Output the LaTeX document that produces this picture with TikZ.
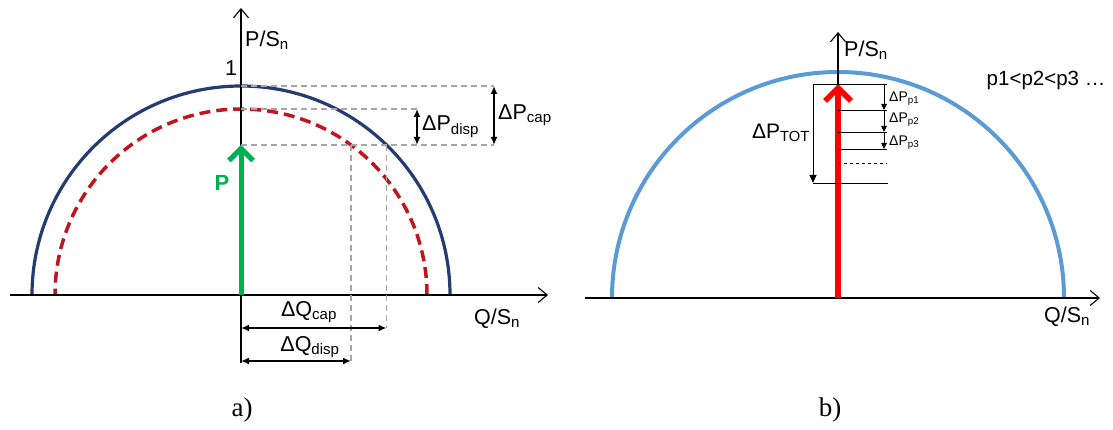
\documentclass[tikz,border=0pt]{standalone}
\usepackage{fontspec}
\setmainfont{Liberation Sans}
\newfontfamily\capfont{Liberation Serif}
\usetikzlibrary{arrows.meta}
\definecolor{navy}{RGB}{36,60,112}
\definecolor{darkred}{RGB}{192,20,30}
\definecolor{pgreen}{RGB}{0,176,80}
\definecolor{lightblue}{RGB}{91,155,213}
\newcommand{\sub}[1]{\textsubscript{#1}}

\begin{document}
\begin{tikzpicture}[
  x=1pt,y=1pt,
  axis/.style={line width=1.1pt,-{Straight Barb[length=9pt,width=15pt]}},
  guide/.style={gray!70,line width=1.2pt,dash pattern=on 6pt off 4pt},
  dim/.style={line width=1.8pt,{Latex[length=8pt,width=7pt]}-{Latex[length=8pt,width=7pt]}},
  lvl/.style={line width=0.8pt},
  lbl/.style={font=\fontsize{21.5}{25}\selectfont,inner sep=1pt},
  small/.style={font=\fontsize{14}{16}\selectfont,inner sep=1pt},
  tag/.style={font=\capfont\fontsize{27}{30}\selectfont}
]
  \useasboundingbox (0,0) rectangle (1113,430);
  % panel a)
  \coordinate (o1) at (241,135);
  \coordinate (pcap) at (241,344);
  \coordinate (pdisp) at (241,321);
  \coordinate (pp) at (241,285);
  \draw[navy,line width=3.2pt] (o1) ++(209pt,0) arc[start angle=0,end angle=180,radius=209pt];
  \draw[darkred,line width=3.5pt,dash pattern=on 11pt off 6pt] (o1) ++(186pt,0) arc[start angle=0,end angle=180,radius=186pt];
  \draw[axis] (10,135) -- (548,135);
  \draw[axis] (241,67) -- (241,422);
  \draw[pgreen,line width=5pt,-{Straight Barb[length=12pt,width=24pt]}] (o1) -- (pp);
  % guide lines
  \coordinate (capr) at (494,344);
  \coordinate (dispr) at (417,321);
  \coordinate (pr) at (494,285);
  \coordinate (dispb) at (417,285);
  \coordinate (qdisp) at (351,285);
  \coordinate (qcap) at (386.5,285);
  \coordinate (qcapb) at (386.5,102);
  \coordinate (qdispb) at (351,69);
  \draw[guide] (pcap) -- (capr);
  \draw[guide] (pdisp) -- (dispr);
  \draw[guide] (pp) -- (pr);
  \draw[guide] (qcap) -- (qcapb);
  \draw[guide] (qdisp) -- (qdispb);
  \draw[dim] (capr) -- (pr);
  \draw[dim] (dispr) -- (dispb);
  \draw[dim] (241,102) -- (qcapb);
  \draw[dim] (241,69) -- (qdispb);
  \node[lbl,anchor=west] (ldpcap) at (497,315) {ΔP\sub{cap}};
  \node[lbl,anchor=west] (ldpdisp) at (421,303) {ΔP\sub{disp}};
  \node[lbl] (ldqcap) at (309,118) {ΔQ\sub{cap}};
  \node[lbl] (ldqdisp) at (310,83) {ΔQ\sub{disp}};
  \node[lbl,anchor=west] (lpa) at (244,390) {P/S\sub{n}};
  \node[lbl] (lone) at (231,362) {1};
  \node[lbl,text=pgreen,font=\fontsize{22}{25}\selectfont\bfseries] (lp) at (222,247) {P};
  \node[lbl] (lqa) at (497,111) {Q/S\sub{n}};
  \node[tag] (ta) at (242,20) {a)};
  % panel b)
  \coordinate (o2) at (838,132);
  \draw[lightblue,line width=4pt] (o2) ++(226pt,0) arc[start angle=0,end angle=180,radius=226pt];
  \draw[axis] (585,132) -- (1100,132);
  \draw[axis] (o2) -- (838,398);
  \draw[red,line width=5.5pt,-{Straight Barb[length=13pt,width=26pt]}] (o2) -- (838,346);
  \coordinate (t0l) at (813,346);
  \coordinate (t0r) at (887,346);
  \coordinate (t1) at (887,320);
  \coordinate (t2) at (887,298);
  \coordinate (t3) at (887,281);
  \coordinate (tbl) at (813,247);
  \coordinate (tbr) at (888,247);
  \draw[lvl] (t0l) -- (t0r);
  \draw[lvl] (838,320) -- (t1);
  \draw[lvl] (838,298) -- (t2);
  \draw[lvl] (838,281) -- (t3);
  \draw[lvl,dashed] (838,267) -- (887,267);
  \draw[lvl] (tbl) -- (tbr);
  \draw[lvl,-{Triangle[length=8pt,width=7pt]}] (t0l) -- (tbl);
  \draw[lvl,-{Triangle[length=6pt,width=5.5pt]}] (884,346) -- (884,320);
  \draw[lvl,-{Triangle[length=6pt,width=5.5pt]}] (884,320) -- (884,298);
  \draw[lvl,-{Triangle[length=6pt,width=5.5pt]}] (884,298) -- (884,281);
  \node[lbl,font=\fontsize{21}{24}\selectfont] (ltot) at (781,297) {ΔP\sub{TOT}};
  \node[small,anchor=west] (lp1) at (888,331) {ΔP\sub{p1}};
  \node[small,anchor=west] (lp2) at (888,310) {ΔP\sub{p2}};
  \node[small,anchor=west] (lp3) at (888,287) {ΔP\sub{p3}};
  \node[lbl,anchor=west] (lpb) at (843,380) {P/S\sub{n}};
  \node[lbl,font=\fontsize{20.5}{24}\selectfont] (lord) at (1046,350) {p1<p2<p3 …};
  \node[lbl] (lqb) at (1067,113) {Q/S\sub{n}};
  \node[tag] (tb) at (830,20) {b)};
\end{tikzpicture}
\end{document}
